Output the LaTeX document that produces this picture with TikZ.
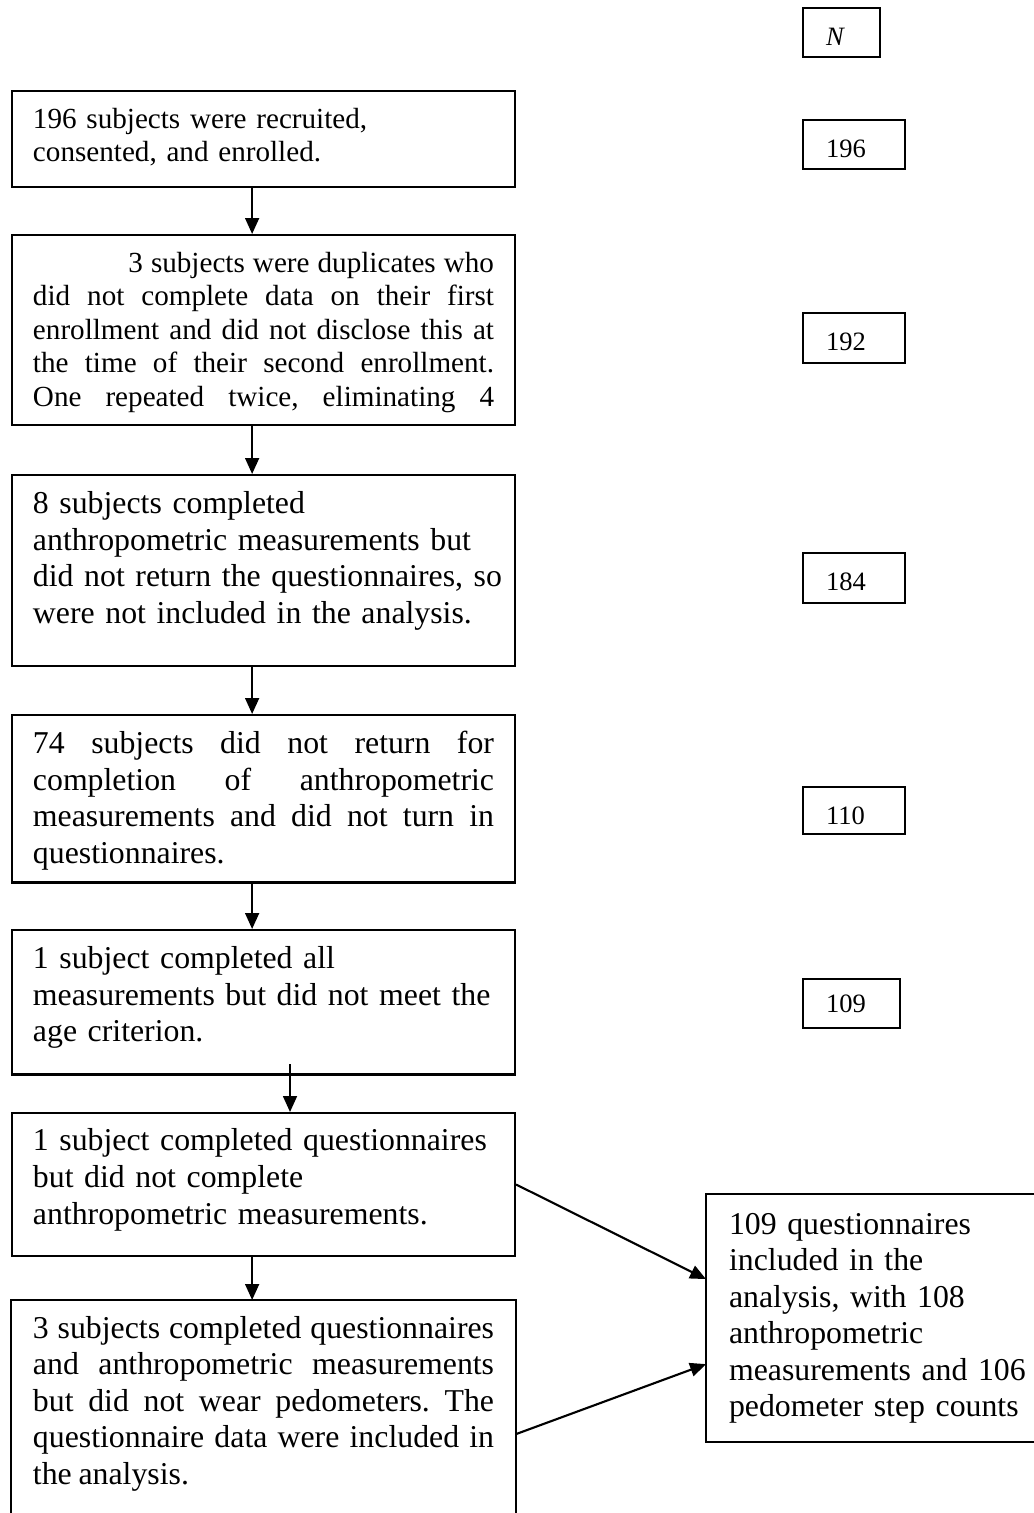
\documentclass[tikz,border=0pt]{standalone}
\usepackage{fontspec}
\setmainfont{Liberation Serif}[WordSpace=0.85]
\usetikzlibrary{arrows.meta}
\tolerance=9999
\hyphenpenalty=10000
\frenchspacing

\begin{document}
\begin{tikzpicture}[x=0.3774pt, y=-0.3774pt, line width=0.8pt,
        >={Triangle[length=6pt,width=5.2pt]},
        stage/.style={draw, anchor=north west, inner xsep=7.9pt, inner ysep=0pt,
            text width=174pt, align=justify, text height=14.5pt,
            font=\fontsize{12}{13.8}\selectfont},
        stagesm/.style={stage, text height=14pt, font=\fontsize{11}{12.65}\selectfont},
        nbox/.style={draw, anchor=north west, inner xsep=8.7pt, inner ysep=0pt,
            text height=14pt, align=left, font=\fontsize{10}{11.5}\selectfont}]
    \useasboundingbox (0,0) rectangle (1034,1513);
    % 左边的流程框
    \node[stagesm, align=left, text depth=22.3pt] (b1) at (11,90)
        {196 subjects were recruited,\\ consented, and enrolled.};
    \node[stagesm, text depth=57.7pt] (b2) at (11,234)
        {\parfillskip=0pt\hspace*{36pt}3 subjects were duplicates who\linebreak
        did not complete data on their first\linebreak
        enrollment and did not disclose this at\linebreak
        the time of their second enrollment.\linebreak
        One repeated twice, eliminating 4\par};
    \node[stage, align=left, text depth=57.4pt] (b3) at (11,474)
        {8 subjects completed\\ anthropometric measurements but\\
        \mbox{did not return the questionnaires, so}\\ were not included in the analysis.};
    \node[stage, text depth=48.7pt] (b4) at (11,714)
        {74 subjects did not return for\linebreak completion of anthropometric\linebreak
        measurements and did not turn in\linebreak questionnaires.};
    \node[stage, align=left, text depth=40pt] (b5) at (11,929)
        {1 subject completed all\\ measurements but did not meet the\\ age criterion.};
    \node[stage, align=left, text height=14.3pt, text depth=39.6pt] (b6) at (11,1112)
        {1 subject completed questionnaires\\ but did not complete\\ anthropometric measurements.};
    \node[stage, draw=none, text height=14pt, text depth=86.4pt] (b7) at (11,1300)
        {3 subjects completed questionnaires\linebreak and anthropometric measurements\linebreak
        but did not wear pedometers. The\linebreak questionnaire data were included in\linebreak
        the analysis.};
    \draw (b7.west |- 0,1513) -- (b7.north west) -- (b7.north east) -- (b7.east |- 0,1513);
    % 右边的结果框
    \node[stage, draw=none, align=left, inner xsep=8.3pt, text width=114pt,
        text height=14.7pt, text depth=78.1pt] (res) at (706,1194)
        {109 questionnaires\\ included in the\\ analysis, with 108\\ anthropometric\\
        measurements and 106\\ pedometer step counts};
    \draw (res.north west -| 1034,0) -- (res.north west) -- (res.south west) -- (res.south west -| 1034,0);
    % N 的值
    \node[nbox, text width=11.7pt, text height=14.3pt, text depth=4.2pt] (nhead) at (802,7) {\textit{N}};
    \node[nbox, text width=21.1pt, text depth=4.5pt] (n196) at (802,119) {196};
    \node[nbox, text width=21.1pt, text depth=4.9pt] (n192) at (802,312) {192};
    \node[nbox, text width=21.1pt, text depth=4.9pt] (n184) at (802,552) {184};
    \node[nbox, text width=21.1pt, text depth=3.7pt] (n110) at (802,786) {110};
    \node[nbox, text width=19.2pt, text height=12.8pt, text depth=5.7pt] (n109) at (802,978) {109};
    % 箭头
    \draw[->] ([xshift=-4.3pt]b1.south) -- ([xshift=-4.3pt]b2.north);
    \draw[->] ([xshift=-4.3pt]b2.south) -- ([xshift=-4.3pt]b3.north);
    \draw[->] ([xshift=-4.3pt]b3.south) -- ([xshift=-4.3pt]b4.north);
    \draw[->] ([xshift=-4.3pt]b4.south) -- ([xshift=-4.3pt]b5.north);
    \draw[->] ([xshift=10pt,yshift=4.2pt]b5.south) -- ([xshift=10pt]b6.north);
    \draw[->] ([xshift=-4.3pt]b6.south) -- ([xshift=-4.3pt]b7.north);
    \draw[->] (b6.east) -- ([yshift=14.7pt]res.west);
    \draw[->] (b7.east) -- ([yshift=-17.4pt]res.west);
\end{tikzpicture}
\end{document}
